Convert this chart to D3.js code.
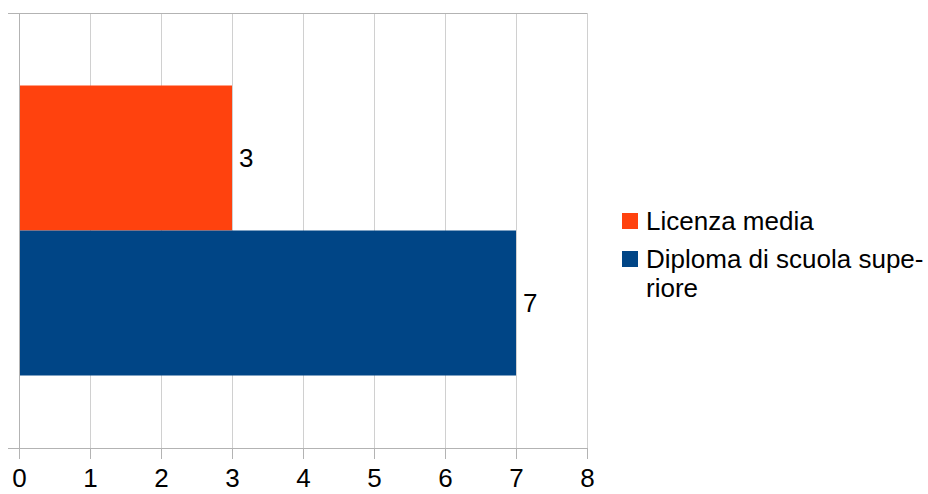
<!DOCTYPE html>
<html>
<head>
<meta charset="utf-8">
<script src="https://cdn.jsdelivr.net/npm/d3@7"></script>
<style>
  html, body { margin: 0; padding: 0; background: #fff; }
  svg { display: block; font-family: "Liberation Sans", Arial, sans-serif; }
</style>
</head>
<body>
<svg id="chart" width="928" height="494"></svg>
<script>
// Data
const categories = ["Titolo di studio"];
const seriesNames = ["Licenza media", "Diploma di scuola superiore"];
const seriesValues = [3, 7];
const seriesColors = ["#ff420e", "#004586"];
const xTicks = [0, 1, 2, 3, 4, 5, 6, 7, 8];

const svg = d3.select("#chart");
const margin = { left: 19, right: 341, top: 13, bottom: 46 };
const W = 928, H = 494;
const plotW = W - margin.left - margin.right;
const plotH = H - margin.top - margin.bottom;

const g = svg.append("g").attr("transform", `translate(${margin.left},${margin.top})`);

const x = d3.scaleLinear().domain([0, 8]).range([0, plotW]);
const y = d3.scaleBand().domain(categories).range([0, plotH]).paddingInner(0).paddingOuter(0);
const ySeries = d3.scaleBand().domain(seriesNames).range([0, y.bandwidth()]).paddingInner(0).paddingOuter(0.5);

// Vertical gridlines
g.append("g").selectAll("line").data(xTicks.filter(d => d > 0)).join("line")
  .attr("x1", d => Math.round(x(d)) + 0.5).attr("x2", d => Math.round(x(d)) + 0.5)
  .attr("y1", 0).attr("y2", plotH)
  .attr("stroke", "#d0d0d0").attr("stroke-width", 1);

// Top border tick of category axis
g.append("line")
  .attr("x1", -11).attr("x2", plotW).attr("y1", 0.5).attr("y2", 0.5)
  .attr("stroke", "#b3b3b3");

// Bars
categories.forEach(cat => {
  seriesNames.forEach((s, i) => {
    g.append("rect")
      .attr("x", x(0))
      .attr("y", y(cat) + ySeries(s))
      .attr("width", x(seriesValues[i]) - x(0))
      .attr("height", ySeries.bandwidth())
      .attr("fill", seriesColors[i]);
    g.append("text")
      .attr("x", x(seriesValues[i]) + 7)
      .attr("y", y(cat) + ySeries(s) + ySeries.bandwidth() / 2)
      .attr("dy", "0.35em")
      .attr("font-size", 26)
      .attr("fill", "#000")
      .text(seriesValues[i]);
  });
});

// X axis
const xAxis = g.append("g").attr("transform", `translate(0,${plotH})`)
  .call(d3.axisBottom(x).tickValues(xTicks).tickSize(11).tickSizeOuter(0).tickPadding(10));
xAxis.select(".domain").attr("stroke", "#b3b3b3").attr("d", `M-11,0.5H${plotW}`);
xAxis.selectAll(".tick line").attr("stroke", "#b3b3b3");
xAxis.selectAll(".tick text").attr("font-size", 26).attr("fill", "#000")
  .attr("font-family", "Liberation Sans, Arial, sans-serif");

// Y axis line
g.append("line").attr("x1", 0.5).attr("x2", 0.5).attr("y1", 0).attr("y2", plotH)
  .attr("stroke", "#b3b3b3");

// Legend
const legend = svg.append("g").attr("transform", "translate(622,213)");
const legendLines = [["Licenza media"], ["Diploma di scuola supe-", "riore"]];
seriesNames.forEach((s, i) => {
  const row = legend.append("g").attr("transform", `translate(0,${i * 38})`);
  row.append("rect").attr("width", 16).attr("height", 16).attr("fill", seriesColors[i]);
  const t = row.append("text").attr("x", 24).attr("y", 17).attr("font-size", 26).attr("fill", "#000");
  legendLines[i].forEach((ln, j) => {
    t.append("tspan").attr("x", 24).attr("dy", j === 0 ? 0 : 29).text(ln);
  });
});
</script>
</body>
</html>
